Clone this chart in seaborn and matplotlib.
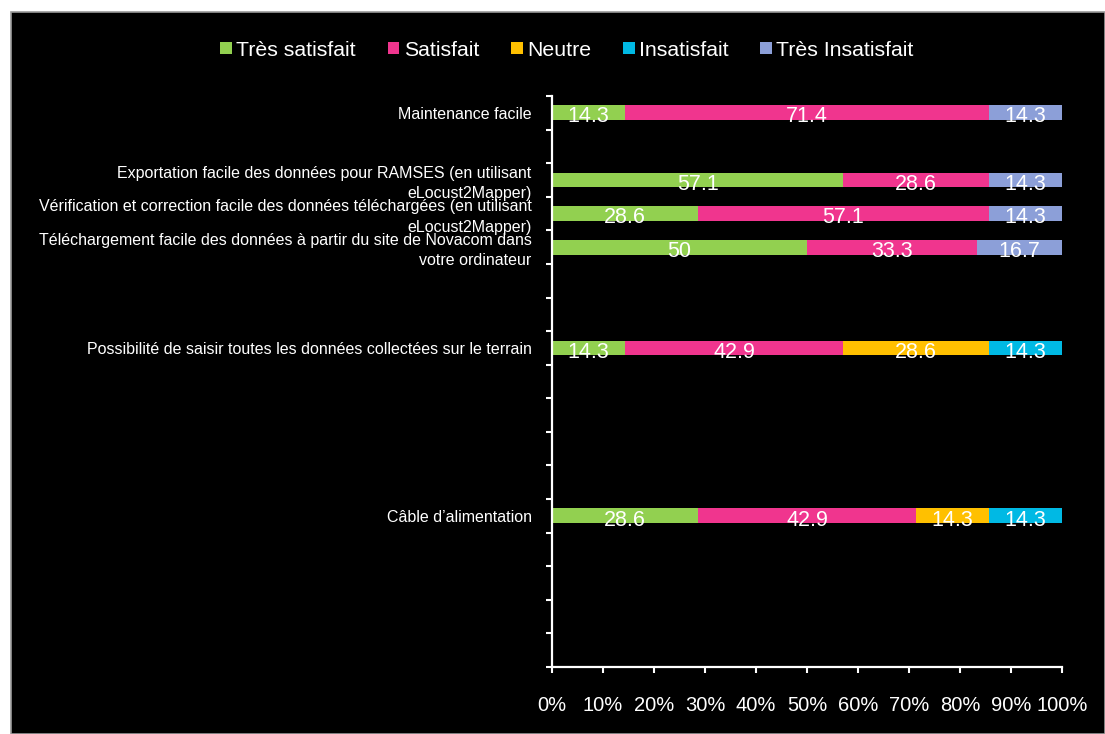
import numpy as np
import pandas as pd
import seaborn as sns
import matplotlib.pyplot as plt
from matplotlib.patches import Rectangle

# Survey items (multi-line labels as they appear on the axis)
items = [
    "Maintenance facile",
    "Exportation facile des données pour RAMSES (en utilisant\neLocust2Mapper)",
    "Vérification et correction facile des données téléchargées (en utilisant\neLocust2Mapper)",
    "Téléchargement facile des données à partir du site de Novacom dans\nvotre ordinateur",
    "Possibilité de saisir toutes les données collectées sur le terrain",
    "Câble d’alimentation",
]
# Row slot of each item on the 17-row category axis (empty rows stay blank)
item_slots = [0, 2, 3, 4, 7, 12]
n_slots = 17

series_names = ["Très satisfait", "Satisfait", "Neutre", "Insatisfait", "Très Insatisfait"]
tres_satisfait = [14.3, 57.1, 28.6, 50, 14.3, 28.6]
satisfait = [71.4, 28.6, 57.1, 33.3, 42.9, 42.9]
neutre = [0, 0, 0, 0, 28.6, 14.3]
insatisfait = [0, 0, 0, 0, 14.3, 14.3]
tres_insatisfait = [14.3, 14.3, 14.3, 16.7, 0, 0]
series_values = [tres_satisfait, satisfait, neutre, insatisfait, tres_insatisfait]
colors = ["#92D050", "#F0358E", "#FFC000", "#00B9E4", "#8C9FD8"]

x_ticks = list(range(0, 101, 10))
x_tick_labels = [f"{t}%" for t in x_ticks]

# category order: real items in their slots, unique blank names elsewhere
order = [" " * (i + 1) for i in range(n_slots)]
for name, slot in zip(items, item_slots):
    order[slot] = name

sns.set_theme(style="white")
plt.rcParams["font.family"] = ["Liberation Sans", "DejaVu Sans"]

fig = plt.figure(figsize=(11.05, 7.34), dpi=100)
fig.patch.set_facecolor("white")
fig.patches.append(Rectangle((11 / 1105, 0), 1 - 11 / 1105, (734 - 12) / 734,
                             transform=fig.transFigure, facecolor="black",
                             edgecolor="#9a9a9a", linewidth=1.2, zorder=-10))

ax = fig.add_axes([552 / 1105, 67 / 734, 510 / 1105, 571 / 734])
ax.set_facecolor("black")

totals = np.sum(np.array(series_values, dtype=float), axis=0)
left = np.zeros(len(items))
for name, vals, col in zip(series_names, series_values, colors):
    vals = np.array(vals, dtype=float)
    share = vals / totals * 100
    df = pd.DataFrame({"item": items, "share": share})
    sns.barplot(data=df, y="item", x="share", order=order, orient="y",
                color=col, width=0.44, left=left, label=name,
                linewidth=0, saturation=1, errorbar=None, ax=ax)
    labels = ax.bar_label(ax.containers[-1],
                          labels=[f"{v:g}" if v > 0 else "" for v in vals],
                          label_type="center", color="white", fontsize=15.5)
    # value labels sit slightly below the bar centre
    for t in labels:
        t.xyann = (0, -3)
        t.set_va("center")
    left = left + share

if ax.get_legend() is not None:
    ax.get_legend().remove()

ax.set_xlim(0, 100)
ax.set_ylim(n_slots - 0.5, -0.5)
ax.set_xticks(x_ticks)
ax.set_xticklabels(x_tick_labels)
ax.set_xlabel("")
ax.set_ylabel("")

# category boundaries carry the tick marks; labels sit at row centres
ax.set_yticks(np.arange(-0.5, n_slots, 1), minor=True)
ax.set_yticklabels([])
ax.tick_params(axis="y", which="major", length=0)
ax.tick_params(axis="y", which="minor", length=4, width=1.5, color="white",
               left=True, direction="out")
ax.tick_params(axis="x", which="major", length=4, width=1.5, color="white",
               pad=17, labelsize=14.5, labelcolor="white", bottom=True,
               direction="out")
for name, slot in zip(items, item_slots):
    dy = -2.6 if "\n" in name else -1.2
    ax.annotate(name, xy=(0, slot), xycoords=("axes fraction", "data"),
                xytext=(-14.6, dy), textcoords="offset points",
                ha="right", va="center", fontsize=11.5, color="white",
                linespacing=1.45, annotation_clip=False)

for side in ["top", "right"]:
    ax.spines[side].set_visible(False)
for side in ["left", "bottom"]:
    ax.spines[side].set_visible(True)
    ax.spines[side].set_color("white")
    ax.spines[side].set_linewidth(1.6)

handles, labels = ax.get_legend_handles_labels()
fig.legend(handles, labels, loc="center", bbox_to_anchor=(567 / 1105, 1 - 50 / 734),
           ncol=5, frameon=False, fontsize=15.3, labelcolor="white",
           handlelength=0.55, handleheight=0.55, handletextpad=0.2,
           columnspacing=1.5)

fig.savefig("out.png", dpi=100, facecolor=fig.get_facecolor())
